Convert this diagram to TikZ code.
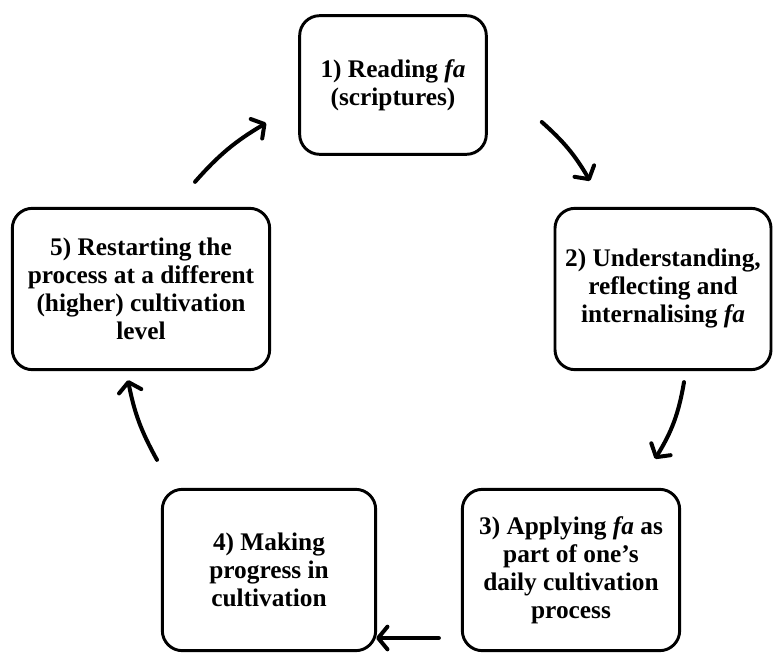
\documentclass[tikz,border=0pt]{standalone}
\usepackage{fontspec}
\setmainfont{Liberation Serif}
\usetikzlibrary{arrows.meta, positioning, calc}

\tikzset{
  stage/.style={draw, line width=2.2pt, rounded corners=15pt, align=center,
    font=\fontsize{19}{21}\selectfont\bfseries, inner sep=2pt},
  flow/.style={line width=3pt, line cap=round,
    -{Straight Barb[length=7pt, width=17pt, line cap=round, line join=round]}}
}

\begin{document}
\begin{tikzpicture}[x=0.75pt, y=-0.75pt]
  \useasboundingbox (0,0) rectangle (774,653);

  % Stages of the cycle
  \node[stage, minimum width=140pt, minimum height=104pt] (r1) at (393,85)
    {1) Reading \textit{fa}\\(scriptures)};
  \node[stage, minimum width=162pt, minimum height=121pt] (r2) at (663,289)
    {2) Understanding,\\reflecting and\\internalising \textit{fa}};
  \node[stage, minimum width=163pt, minimum height=121pt] (r3) at (571,570)
    {3) Applying \textit{fa} as\\part of one's\\daily cultivation\\process};
  \node[stage, minimum width=160pt, minimum height=121pt] (r4) at (269,570)
    {4) Making\\progress in\\cultivation};
  \node[stage, minimum width=193pt, minimum height=121pt] (r5) at (141,289)
    {5) Restarting the\\process at a different\\(higher) cultivation\\level};

  % Arrows between stages
  \draw[flow] ($(r1.east)+(54,37)$) to[bend left=9] ($(r2.north)+(-73,-26)$);
  \draw[flow] ($(r2.south)+(21,11)$) to[bend left=11] ($(r3.north)+(84,-29)$);
  \draw[flow] ($(r3.west)+(-22,68)$) -- ($(r4.east)+(-1,68)$);
  \draw[flow] ($(r4.north)+(-112,-28)$) to[bend left=9] ($(r5.south)+(-13,9)$);
  \draw[flow] ($(r5.north)+(54,-25)$) to[bend left=9] ($(r1.west)+(-32,38)$);
\end{tikzpicture}
\end{document}
